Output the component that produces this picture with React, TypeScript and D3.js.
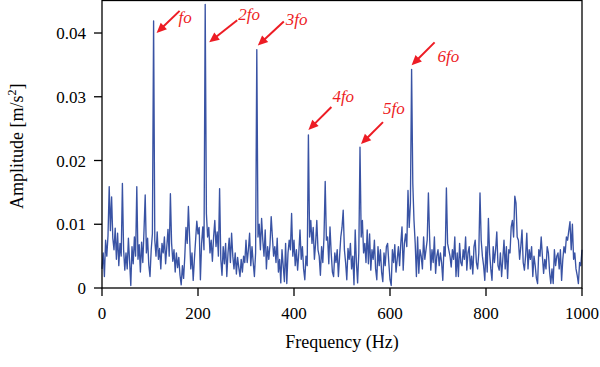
import React from 'react';
import * as d3 from 'd3';

// spectrum bins, 2.5 Hz apart from 0 to 1000 Hz
const FREQ_STEP = 2.5;

// amplitude per bin, in 10^-3 m/s^2
const amplitudeMilli = [
  3.0, 5.5, 1.8, 7.5, 5.0, 8.2, 15.9, 9.0, 14.3, 7.8, 6.0, 9.4, 4.5, 8.6, 3.5, 7.0, 5.0, 16.4, 6.0, 2.8,
  5.5, 3.0, 7.8, 4.2, 0.4, 6.5, 3.8, 8.0, 5.0, 15.9, 4.5, 6.8, 2.5, 7.2, 4.0, 9.0, 14.6, 5.5, 7.8, 3.6,
  1.8, 6.0, 8.5, 41.9, 7.5, 5.0, 8.8, 4.5, 6.2, 3.0, 7.0, 5.5, 8.0, 3.8, 6.5, 9.2, 5.0, 14.8, 7.0, 4.2,
  6.0, 2.5, 5.5, 3.2, 4.8, 2.0, 0.5, 3.5, 1.5, 5.0, 9.5, 7.0, 12.8, 8.0, 3.0, 5.5, 1.2, 4.5, 7.5, 10.5,
  8.5, 9.5, 1.3, 7.0, 9.6, 6.0, 44.5, 11.7, 8.0, 9.5, 5.5, 7.5, 4.2, 8.0, 10.6, 6.5, 8.8, 5.0, 15.6, 4.5,
  2.0, 6.5, 3.8, 7.0, 1.8, 5.5, 7.8, 4.0, 8.6, 5.0, 3.0, 5.5, 2.2, 4.8, 3.2, 1.8, 4.5, 2.5, 5.0, 4.0,
  7.5, 4.0, 6.0, 8.6, 3.5, 6.5, 4.0, 1.8, 5.5, 37.4, 8.0, 10.0, 6.0, 10.9, 7.5, 5.0, 9.1, 3.0, 6.5, 4.5,
  6.8, 11.2, 8.0, 5.0, 6.5, 4.0, 7.8, 2.5, 4.5, 0.8, 6.0, 3.5, 1.0, 7.0, 0.7, 5.5, 7.5, 6.0, 11.7, 5.0,
  7.5, 3.5, 6.0, 2.8, 5.5, 9.1, 4.5, 6.5, 3.0, 1.3, 5.0, 3.5, 24.0, 8.0, 10.6, 7.0, 9.5, 4.5, 7.0, 10.6,
  6.0, 5.0, 2.0, 6.5, 4.0, 8.0, 16.7, 7.5, 8.0, 3.8, 9.6, 5.5, 2.5, 1.8, 5.5, 4.0, 6.0, 1.8, 5.0, 8.0,
  9.5, 12.2, 6.0, 4.0, 1.3, 6.2, 4.5, 7.0, 3.0, 5.0, 0.5, 9.1, 4.0, 0.8, 5.5, 22.1, 8.0, 10.6, 5.5, 7.0,
  4.0, 9.1, 3.8, 8.5, 2.8, 6.0, 4.5, 7.5, 3.0, 1.3, 6.5, 3.5, 6.0, 2.5, 1.0, 5.5, 3.5, 6.5, 7.0, 4.0,
  1.3, 0.4, 6.0, 4.0, 6.8, 2.5, 4.5, 6.5, 3.5, 7.0, 9.6, 2.8, 7.0, 8.5, 6.5, 15.3, 9.5, 13.3, 34.3, 16.4,
  10.6, 7.0, 1.8, 8.0, 2.3, 6.0, 5.0, 3.0, 8.0, 4.5, 6.0, 7.5, 14.9, 8.0, 2.8, 6.0, 4.0, 8.0, 2.3, 5.0,
  6.0, 3.5, 5.5, 4.0, 1.2, 6.5, 5.0, 15.7, 7.0, 6.0, 5.0, 3.3, 6.0, 4.5, 8.0, 1.8, 5.5, 1.8, 7.0, 4.0,
  3.5, 6.0, 4.5, 8.0, 2.8, 5.5, 6.5, 3.0, 5.0, 2.2, 6.5, 7.5, 4.0, 3.0, 5.5, 14.9, 7.5, 5.0, 3.5, 1.2,
  6.5, 2.5, 10.9, 5.5, 3.0, 1.2, 6.5, 4.0, 6.0, 8.8, 3.5, 2.8, 5.5, 1.8, 4.5, 7.5, 3.0, 6.5, 1.5, 6.0,
  5.5, 9.6, 10.6, 8.0, 14.4, 13.3, 8.0, 7.5, 4.5, 6.5, 9.1, 4.0, 2.8, 5.0, 8.6, 3.0, 6.0, 4.5, 6.5, 1.8,
  5.0, 3.5, 1.5, 0.7, 6.0, 5.0, 8.0, 5.0, 2.3, 4.5, 3.0, 6.5, 5.5, 2.5, 0.7, 3.0, 0.7, 6.0, 3.5, 5.0,
  5.5, 3.0, 6.0, 1.2, 4.5, 6.5, 5.5, 8.0, 7.5, 9.0, 10.4, 6.0, 10.0, 4.5, 5.5, 3.0, 2.0, 0.7, 4.0, 3.5, 6.0
];

const xTicks = [0, 200, 400, 600, 800, 1000];
const yTicks = [0, 0.01, 0.02, 0.03, 0.04];

// harmonics of the fundamental
const harmonicLabels = ['fo', '2fo', '3fo', '4fo', '5fo', '6fo'];
const harmonicFreqs = [107.5, 215, 322.5, 430, 537.5, 645];

// arrow placement in px: head offset from peak tip, tail offset from head, label offset from tail
const arrowLayout = [
  { head: [3, 12], tail: [23, -22], label: [-1, 12] },
  { head: [4, 38], tail: [28, -22], label: [1, 0] },
  { head: [1, -4], tail: [26, -24], label: [2, 3] },
  { head: [0, -5], tail: [23, -23], label: [1, -5] },
  { head: [1, -3], tail: [22, -22], label: [0, -8] },
  { head: [0, -4], tail: [23, -23], label: [3, 20] }
];

const BLUE = '#3953a4';
const RED = '#ed1c24';
const FONT = '"Liberation Serif", "DejaVu Serif", serif';

export default function App() {
  const x = d3.scaleLinear().domain([0, 1000]).range([102, 582]);
  const y = d3.scaleLinear().domain([0, 0.0451]).range([288, 0.5]);

  const points: [number, number][] = amplitudeMilli.map((a, i) => [i * FREQ_STEP, a / 1000]);
  const line = d3.line<[number, number]>()
    .x(d => x(d[0]))
    .y(d => y(d[1]));

  const arrows = harmonicFreqs.map((f, i) => {
    const idx = Math.round(f / FREQ_STEP);
    const px = x(f);
    const py = y(amplitudeMilli[idx] / 1000);
    const lay = arrowLayout[i];
    const hx = px + lay.head[0];
    const hy = py + lay.head[1];
    const tx = hx + lay.tail[0];
    const ty = hy + lay.tail[1];
    const len = Math.hypot(hx - tx, hy - ty);
    const ux = (hx - tx) / len;
    const uy = (hy - ty) / len;
    const headLen = 10;
    const halfW = 4.5;
    const bx = hx - ux * headLen;
    const by = hy - uy * headLen;
    const tri = `M${hx},${hy}L${bx - uy * halfW},${by + ux * halfW}L${bx + uy * halfW},${by - ux * halfW}Z`;
    return {
      label: harmonicLabels[i],
      tx, ty, bx: bx + ux, by: by + uy, tri,
      lx: tx + lay.label[0],
      ly: ty + lay.label[1]
    };
  });

  const [x0, x1] = x.range();
  const [y0, y1] = y.range();

  return (
    <svg width={600} height={367} style={{ position: 'absolute', left: 0, top: 0, background: '#fff', fontFamily: FONT }}>
      <path d={line(points) || ''} fill="none" stroke={BLUE} strokeWidth={1.35} strokeLinejoin="round" />

      {/* frame */}
      <rect x={x0} y={y1} width={x1 - x0} height={y0 - y1} fill="none" stroke="#000" strokeWidth={1.3} />

      {/* x axis */}
      {xTicks.map(t => (
        <g key={'x' + t}>
          <line x1={x(t)} x2={x(t)} y1={y0} y2={y0 + 8} stroke="#000" strokeWidth={1.3} />
          <text x={x(t)} y={y0 + 31} textAnchor="middle" fontSize={17}>{t}</text>
        </g>
      ))}
      <text x={(x0 + x1) / 2} y={348} textAnchor="middle" fontSize={18}>Frequency (Hz)</text>

      {/* y axis */}
      {yTicks.map(t => (
        <g key={'y' + t}>
          <line x1={x0 - 8} x2={x0} y1={y(t)} y2={y(t)} stroke="#000" strokeWidth={1.3} />
          <text x={86} y={y(t) + 6} textAnchor="end" fontSize={17}>{t === 0 ? '0' : d3.format('.2f')(t)}</text>
        </g>
      ))}
      <text transform={`translate(23,${(y0 + y1) / 2 + 2}) rotate(-90)`} textAnchor="middle" fontSize={18}>
        Amplitude [m/s<tspan dy={-7} fontSize={12}>2</tspan><tspan dy={7}>]</tspan>
      </text>

      {/* harmonic annotations */}
      {arrows.map(a => (
        <g key={a.label}>
          <line x1={a.tx} y1={a.ty} x2={a.bx} y2={a.by} stroke={RED} strokeWidth={2} />
          <path d={a.tri} fill={RED} />
          <text x={a.lx} y={a.ly} fill={RED} fontSize={17} fontStyle="italic">{a.label}</text>
        </g>
      ))}
    </svg>
  );
}
